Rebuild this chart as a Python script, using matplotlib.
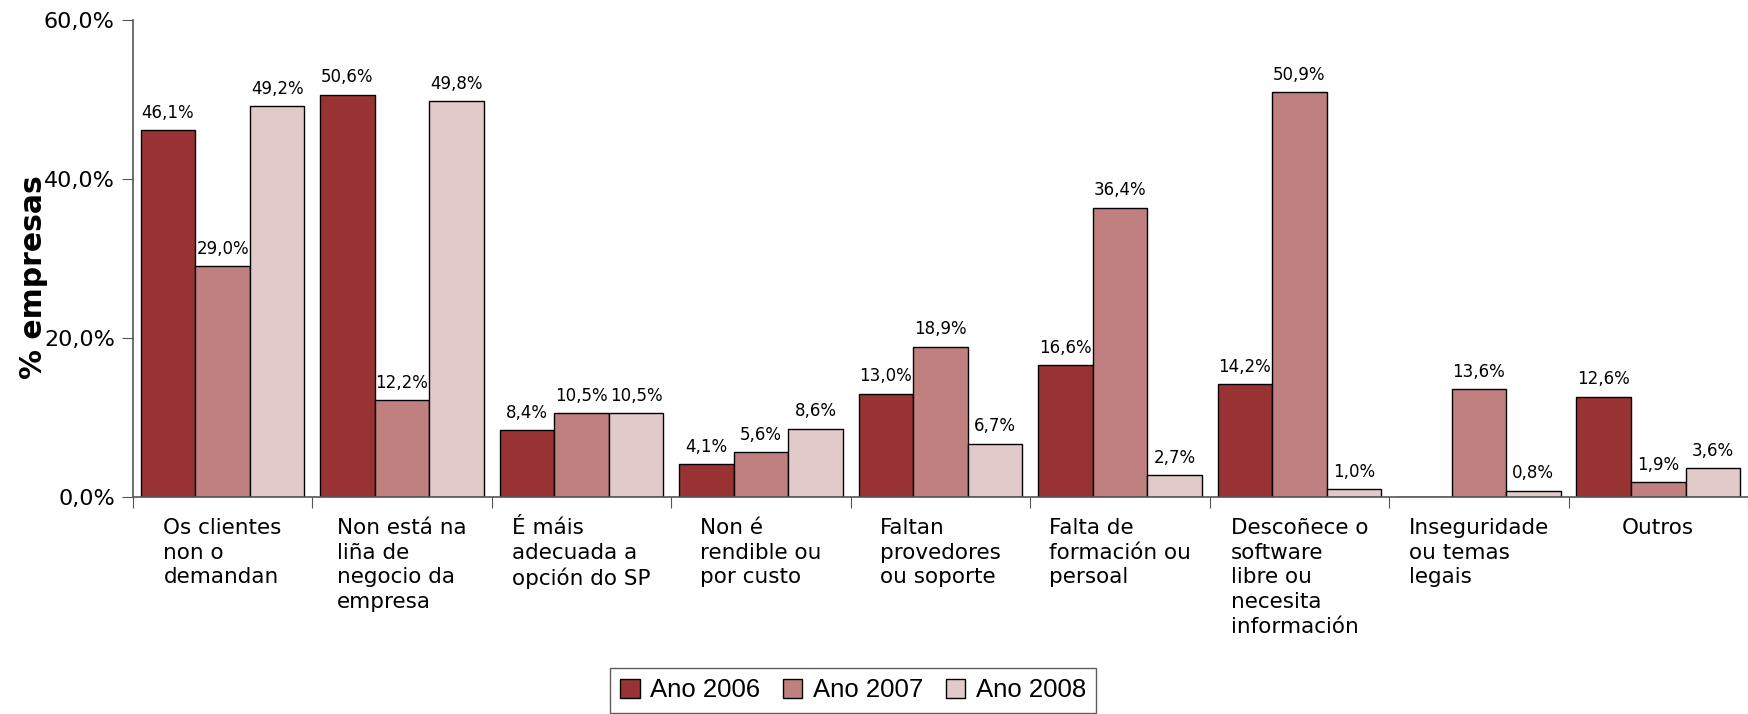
import matplotlib
matplotlib.use("Agg")
import matplotlib.pyplot as plt
import numpy as np

categories = [
    "Os clientes\nnon o\ndemandan",
    "Non está na\nliña de\nnegocio da\nempresa",
    "É máis\nadecuada a\nopción do SP",
    "Non é\nrendible ou\npor custo",
    "Faltan\nprovedores\nou soporte",
    "Falta de\nformación ou\npersoal",
    "Descoñece o\nsoftware\nlibre ou\nnecesita\ninformación",
    "Inseguridade\nou temas\nlegais",
    "Outros",
]
series_names = ["Ano 2006", "Ano 2007", "Ano 2008"]
ano2006 = [46.1, 50.6, 8.4, 4.1, 13.0, 16.6, 14.2, np.nan, 12.6]
ano2007 = [29.0, 12.2, 10.5, 5.6, 18.9, 36.4, 50.9, 13.6, 1.9]
ano2008 = [49.2, 49.8, 10.5, 8.6, 6.7, 2.7, 1.0, 0.8, 3.6]
yticks = [0, 20, 40, 60]
colors = ["#993333", "#C08080", "#E3CACA"]

fig = plt.figure(figsize=(17.48, 7.14), dpi=100)
ax = fig.add_axes([0.076, 0.304, 0.924, 0.668])

n = len(categories)
centers = np.arange(n) + 0.5
w = 0.304
for k, (vals, col, name) in enumerate(zip([ano2006, ano2007, ano2008], colors, series_names)):
    xs = centers + (k - 1) * w
    v = np.array(vals, dtype=float)
    ax.bar(xs, np.nan_to_num(v), width=w, color=col, edgecolor="black",
           linewidth=1.0, label=name)
    for x, val in zip(xs, v):
        if np.isnan(val):
            continue
        ax.annotate(f"{val:.1f}%".replace(".", ","), (x, val), xytext=(0, 6),
                    textcoords="offset points", ha="center", va="bottom", fontsize=12)

ax.set_xlim(0, n)
ax.set_ylim(0, 60)
ax.set_yticks(yticks)
ax.set_yticklabels([f"{t:.1f}%".replace(".", ",") for t in yticks], fontsize=16)
ax.set_xticks(np.arange(n + 1))
ax.set_xticklabels([])
ax.set_xticks(centers, minor=True)
ax.set_xticklabels(categories, minor=True, fontsize=15.5)
for lab in ax.get_xticklabels(minor=True):
    lab.set_multialignment("left")
    lab.set_linespacing(1.3)
ax.tick_params(axis="x", which="major", length=8, direction="out", color="#555555")
ax.tick_params(axis="x", which="minor", length=0, pad=15)
ax.tick_params(axis="y", length=8, direction="out", color="#555555", pad=5)

for s in ["top", "right"]:
    ax.spines[s].set_visible(False)
for s in ["left", "bottom"]:
    ax.spines[s].set_color("#555555")
    ax.spines[s].set_linewidth(1.2)

ax.set_ylabel("% empresas", fontsize=21.5, fontweight="bold", labelpad=-3)
ax.yaxis.label.set_y(0.46)

leg = fig.legend(loc="lower center", bbox_to_anchor=(0.488, 0.002), ncol=3,
                 prop={"family": "Liberation Sans", "size": 18.5},
                 frameon=True, fancybox=False, edgecolor="#333333",
                 handlelength=0.75, handleheight=0.75, handletextpad=0.4,
                 columnspacing=0.9, borderpad=0.4, borderaxespad=0)
leg.get_frame().set_linewidth(1.0)

fig.savefig("out.png", dpi=100)
